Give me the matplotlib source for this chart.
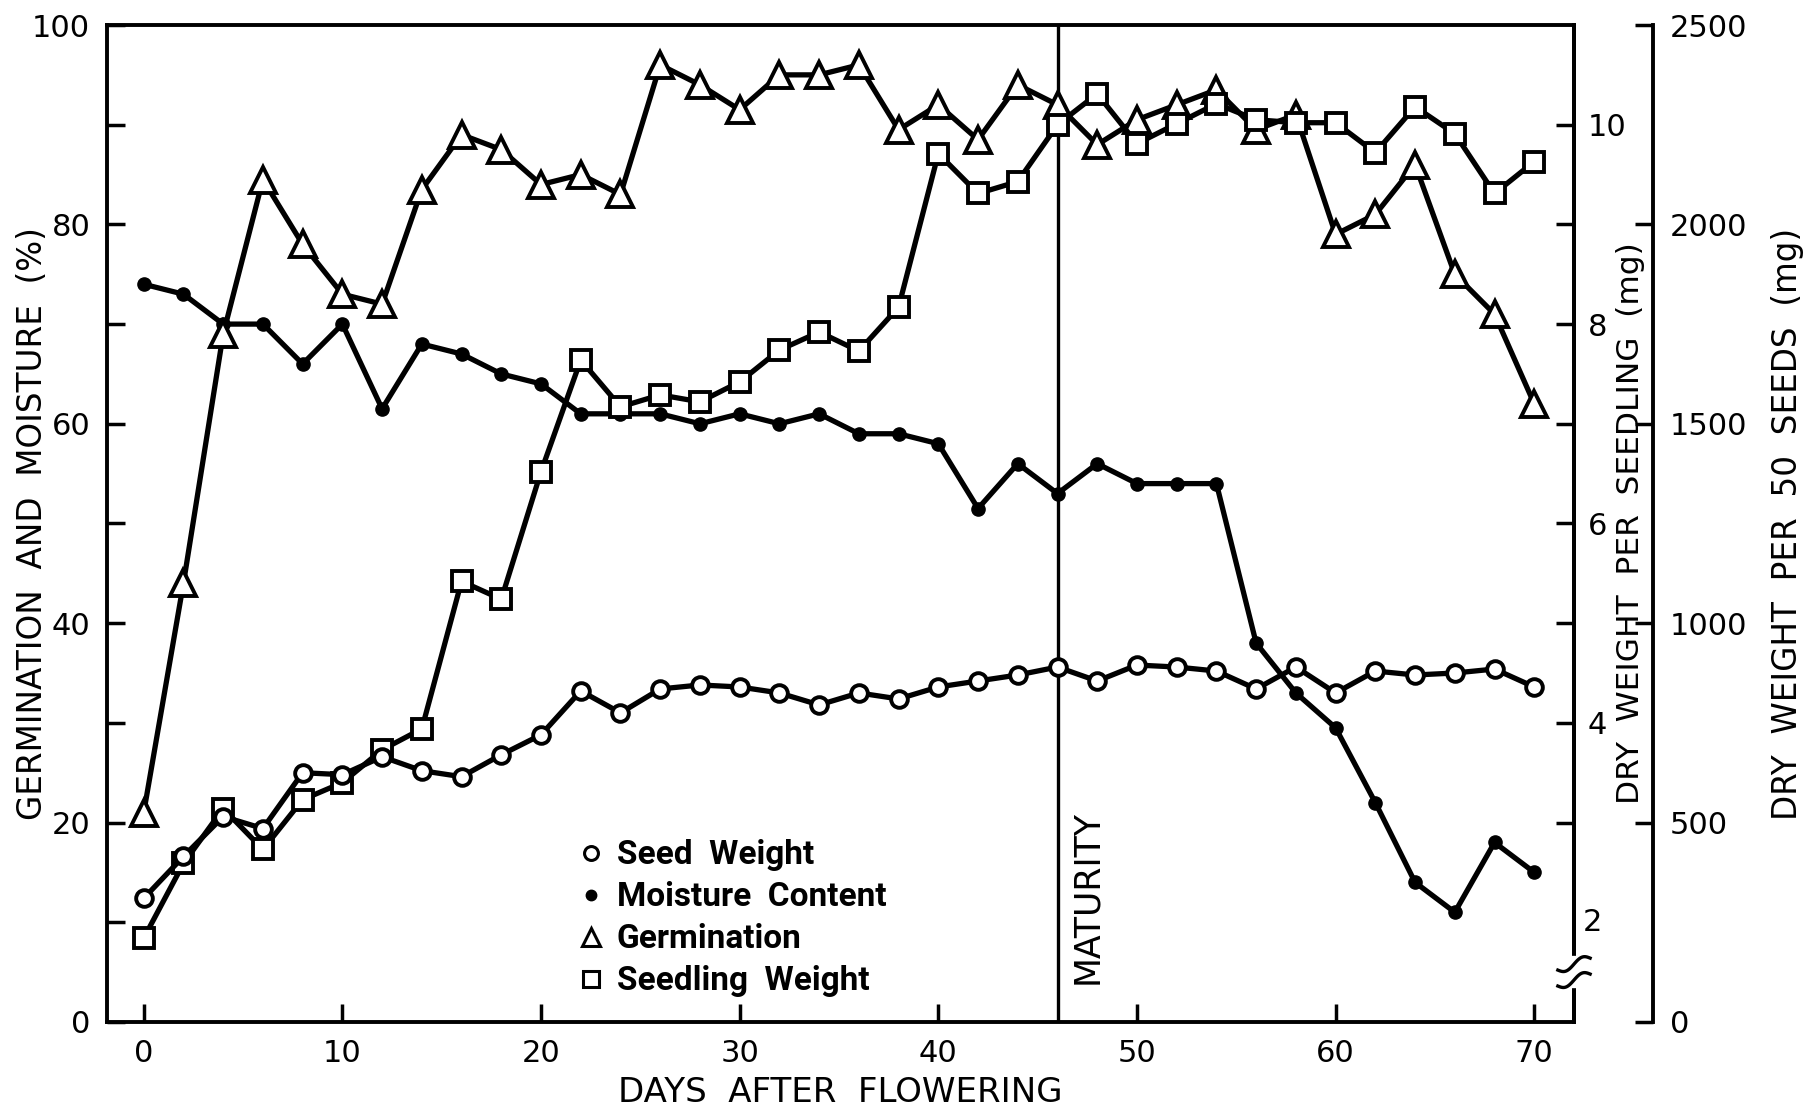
import numpy as np
import matplotlib
matplotlib.use("Agg")
import matplotlib.pyplot as plt
from matplotlib.lines import Line2D
import matplotlib.transforms as mtransforms

plt.rcParams["font.family"] = "DejaVu Sans"

days = np.arange(0, 72, 2)

# germination (%)
germination = [21, 44, 69, 84.5, 78, 73, 72, 83.5, 89, 87.5, 84, 85, 83, 96, 94, 91.5,
               95, 95, 96, 89.5, 92, 88.5, 94, 92, 88, 90.5, 92, 93.5, 89.5, 91,
               79, 81, 86, 75, 71, 62]
# moisture content (%)
moisture = [74, 73, 70, 70, 66, 70, 61.5, 68, 67, 65, 64, 61, 61, 61, 60, 61,
            60, 61, 59, 59, 58, 51.5, 56, 53, 56, 54, 54, 54, 38, 33,
            29.5, 22, 14, 11, 18, 15]
# dry weight per 50 seeds (mg)
seed_weight = [310, 415, 515, 485, 625, 620, 665, 630, 615, 670, 720, 830, 775, 835, 845, 840,
               825, 795, 825, 810, 840, 855, 870, 890, 855, 895, 890, 880, 835, 890,
               825, 880, 870, 875, 885, 840]
# dry weight per seedling (mg)
seedling_weight = [1.84, 2.59, 3.14, 2.73, 3.23, 3.40, 3.73, 3.94, 5.42, 5.24, 6.52, 7.64,
                   7.17, 7.29, 7.22, 7.42, 7.74, 7.92, 7.73, 8.17, 9.71, 9.31, 9.43, 10.0,
                   10.31, 9.81, 10.01, 10.21, 10.05, 10.02, 10.02, 9.72, 10.18, 9.91, 9.31, 9.63]

maturity_day = 46

x_ticks = [0, 10, 20, 30, 40, 50, 60, 70]
pct_ticks = list(range(0, 101, 10))
pct_labels = ["0", "", "20", "", "40", "", "60", "", "80", "", "100"]
seedling_ticks = [3, 4, 5, 6, 7, 8, 9, 10]
seedling_tick_labels = ["", "4", "", "6", "", "8", "", "10"]
seedling_label_2 = "2"
seed_ticks = [0, 500, 1000, 1500, 2000, 2500]

fig = plt.figure(figsize=(18.04, 11.12), dpi=100)
ax = fig.add_axes([0.0593, 0.081, 0.8132, 0.8965])
ax2 = ax.twinx()
ax3 = ax.twinx()
ax3.spines["right"].set_position(("axes", 1.054))

lw = 3.8
tick_kw = dict(direction="in", length=13, width=2.5, labelsize=22)

ax.set_xlim(-1.85, 72)
ax.set_ylim(0, 100)
ax2.set_ylim(1, 11)
ax3.set_ylim(0, 2500)

for a in (ax, ax2, ax3):
    for s in a.spines.values():
        s.set_linewidth(2.8)
for s in ("top", "left", "bottom"):
    ax2.spines[s].set_visible(False)
    ax3.spines[s].set_visible(False)

# data
ax.plot(days, moisture, "-o", color="black", lw=lw, ms=9.5, zorder=3)
ax.plot(days, germination, "-^", color="black", lw=lw, ms=19, mfc="white",
        mew=2.8, zorder=4)
ax3.plot(days, seed_weight, "-o", color="black", lw=lw, ms=12, mfc="white",
         mew=2.8, zorder=3)
ax2.plot(days, seedling_weight, "-s", color="black", lw=lw, ms=15, mfc="white",
         mew=2.8, zorder=3)

ax.axvline(maturity_day, color="black", lw=2.4, zorder=1)
ax.text(maturity_day + 1.5, 3.8, "MATURITY", rotation=90, ha="center", va="bottom",
        fontsize=25)

# ticks
ax.set_xticks(x_ticks)
ax.tick_params(axis="x", pad=12, **tick_kw)
ax.set_yticks(pct_ticks)
ax.set_yticklabels(pct_labels)
ax.tick_params(axis="y", pad=12, **tick_kw)

ax2.set_yticks(seedling_ticks)
ax2.set_yticklabels(seedling_tick_labels)
ax2.tick_params(axis="y", pad=10, **tick_kw)
ax2.text(1.006, 2, seedling_label_2, transform=mtransforms.blended_transform_factory(
    ax2.transAxes, ax2.transData), fontsize=22, va="center", ha="left")

ax3.set_yticks(seed_ticks)
ax3.tick_params(axis="y", pad=12, **tick_kw)

# axis break on the seedling axis
trans = mtransforms.blended_transform_factory(ax2.transAxes, ax2.transData)
ax2.plot([1, 1], [1.38, 1.62], color="white", lw=6, transform=trans, clip_on=False, zorder=5)
t = np.linspace(-1, 1, 40)
for yc in (1.42, 1.58):
    ax2.plot(1 + 0.011 * t, yc + 0.06 * t + 0.04 * np.sin(np.pi * t), color="black",
             lw=2.4, transform=trans, clip_on=False, zorder=6)

# labels
ax.set_xlabel("DAYS  AFTER  FLOWERING", fontsize=24.5, labelpad=6)
ax.set_ylabel("GERMINATION  AND  MOISTURE  (%)", fontsize=23.5)
ax2.set_ylabel("DRY  WEIGHT  PER  SEEDLING  (mg)", fontsize=22.5)
ax3.set_ylabel("DRY  WEIGHT  PER  50  SEEDS  (mg)", fontsize=23.5)
for a, xpos in ((ax, -0.051), (ax2, 1.0385), (ax3, 1.1452)):
    a.yaxis.label.set_verticalalignment("center")
    a.yaxis.set_label_coords(xpos, 0.5)

handles = [
    Line2D([], [], marker="o", ls="none", color="black", mfc="white", ms=10, mew=2.2),
    Line2D([], [], marker="o", ls="none", color="black", ms=7.5),
    Line2D([], [], marker="^", ls="none", color="black", mfc="white", ms=13, mew=2.2),
    Line2D([], [], marker="s", ls="none", color="black", mfc="white", ms=11, mew=2.2),
]
labels = ["Seed  Weight", "Moisture  Content", "Germination", "Seedling  Weight"]
ax.legend(handles, labels, loc="upper left", bbox_to_anchor=(0.310, 0.2), frameon=False,
          prop=dict(family=["Roboto", "DejaVu Sans"], size=24, weight="bold"),
          handlelength=0.75, handletextpad=0.4, labelspacing=0.3, borderpad=0)

fig.savefig("out.png", dpi=100)
